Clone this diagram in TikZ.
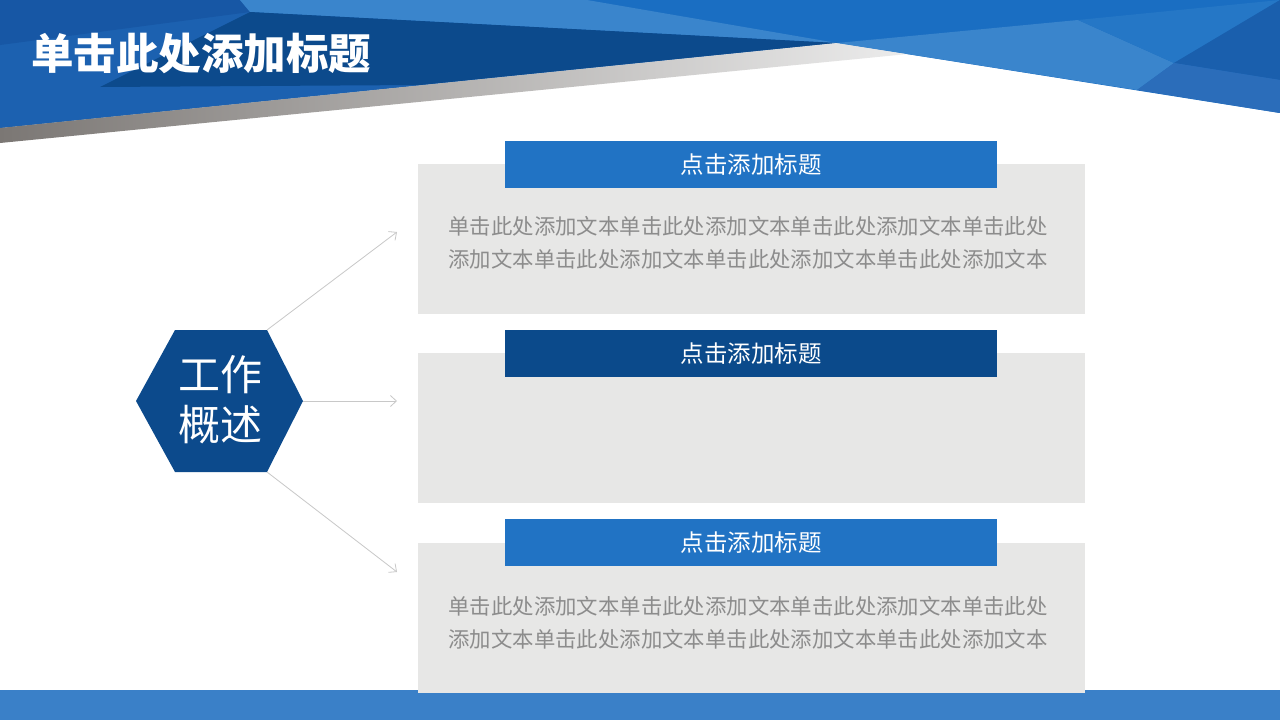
\documentclass[tikz,border=0pt]{standalone}
\usepackage{fontspec}
\newfontfamily\cjk{Noto Sans CJK SC}
\usetikzlibrary{shapes.geometric,arrows.meta}
\definecolor{hdrmid}{HTML}{1A6EC2}
\definecolor{hdrleft}{HTML}{1C61B0}
\definecolor{hdrtl}{HTML}{1757A5}
\definecolor{hdrlight}{HTML}{3A85CC}
\definecolor{hdrdark}{HTML}{0C4A8C}
\definecolor{hdrB}{HTML}{2577C6}
\definecolor{hdrC}{HTML}{1A5FAD}
\definecolor{hdrD}{HTML}{2B6DBA}
\definecolor{stripL}{HTML}{7B7774}
\definecolor{stripR}{HTML}{ECECEC}
\definecolor{barblue}{HTML}{2173C4}
\definecolor{bardark}{HTML}{0B4A8B}
\definecolor{boxgray}{HTML}{E7E7E6}
\definecolor{bodygray}{HTML}{8C8C8C}
\definecolor{conngray}{HTML}{C8C8C8}
\definecolor{footblue}{HTML}{3A80C8}
\begin{document}
\begin{tikzpicture}[x=1pt,y=-1pt,
  panel/.style={fill=boxgray,draw=none,minimum width=667pt,minimum height=150pt,inner sep=0pt,outer sep=0pt},
  tbar/.style={fill=barblue,draw=none,minimum width=492pt,minimum height=47pt,inner sep=0pt,text=white,font=\cjk\fontsize{23.5}{28}\selectfont},
  body/.style={text=bodygray,align=center,inner sep=0pt,font=\cjk\fontsize{21.4}{33}\selectfont},
  hextext/.style={inner sep=0pt,text=white,align=center,font=\cjk\fontsize{42}{50}\selectfont},
  conn/.style={draw=conngray,line width=0.8pt,-{Straight Barb[length=6pt,width=11pt]}}]
\useasboundingbox (0,0) rectangle (1280,720);
\fill[white] (0,0) rectangle (1280,720);
% header facets
\fill[hdrmid] (0,0) -- (1280,0) -- (1280,113) -- (837,43) -- (0,128) -- cycle;
\fill[hdrleft] (0,0) -- (240,0) -- (250,12) -- (837,43) -- (0,128) -- cycle;
\fill[hdrtl] (0,0) -- (240,0) -- (250,12) -- (0,45) -- cycle;
\fill[hdrlight] (240,0) -- (587,0) -- (837,43) -- (250,12) -- cycle;
\fill[hdrdark] (250,12) -- (837,43) -- (420,85) -- (100,87) -- cycle;
\shade[left color=stripL,right color=stripR] (0,128) -- (837,43) -- (908,54) -- (0,143) -- cycle;
\fill[hdrlight] (837,43) -- (1078,20) -- (1174,63) -- (1137,90) -- cycle;
\fill[hdrB] (1078,20) -- (1280,0) -- (1174,63) -- cycle;
\fill[hdrC] (1280,0) -- (1280,80) -- (1174,63) -- cycle;
\fill[hdrD] (1174,63) -- (1280,80) -- (1280,113) -- (1137,90) -- cycle;
\node[anchor=west,text=white,inner sep=0pt,font=\cjk\bfseries\fontsize{42.5}{48}\selectfont] (title) at (31,53) {单击此处添加标题};
% footer bar
\fill[footblue] (0,690) rectangle (1280,720);
% panels
\node[panel] (box1) at (751.5,239) {};
\node[panel] (box2) at (751.5,428) {};
\node[panel] (box3) at (751.5,617.5) {};
\node[tbar] (bar1) at (751,164.5) {点击添加标题};
\node[tbar,fill=bardark] (bar2) at (751,353.5) {点击添加标题};
\node[tbar] (bar3) at (751,542.5) {点击添加标题};
\node[body] (txt1) at (748,242.5) {单击此处添加文本单击此处添加文本单击此处添加文本单击此处\\添加文本单击此处添加文本单击此处添加文本单击此处添加文本};
\node[body] (txt3) at (748,622.5) {单击此处添加文本单击此处添加文本单击此处添加文本单击此处\\添加文本单击此处添加文本单击此处添加文本单击此处添加文本};
% hexagon and connectors
\coordinate (hL) at (136,401);
\coordinate (hTL) at (175,330);
\coordinate (hTR) at (267,330);
\coordinate (hR) at (303,401);
\coordinate (hBR) at (267,472);
\coordinate (hBL) at (175,472);
\fill[hdrdark] (hL) -- (hTL) -- (hTR) -- (hR) -- (hBR) -- (hBL) -- cycle;
\node[hextext] (hex) at (220,400) {工作\\概述};
\coordinate (e1) at (397,232);
\coordinate (e2) at (397,401);
\coordinate (e3) at (397,572);
\draw[conn] (hTR) -- (e1);
\draw[conn] (hR) -- (e2);
\draw[conn] (hBR) -- (e3);
\end{tikzpicture}
\end{document}
